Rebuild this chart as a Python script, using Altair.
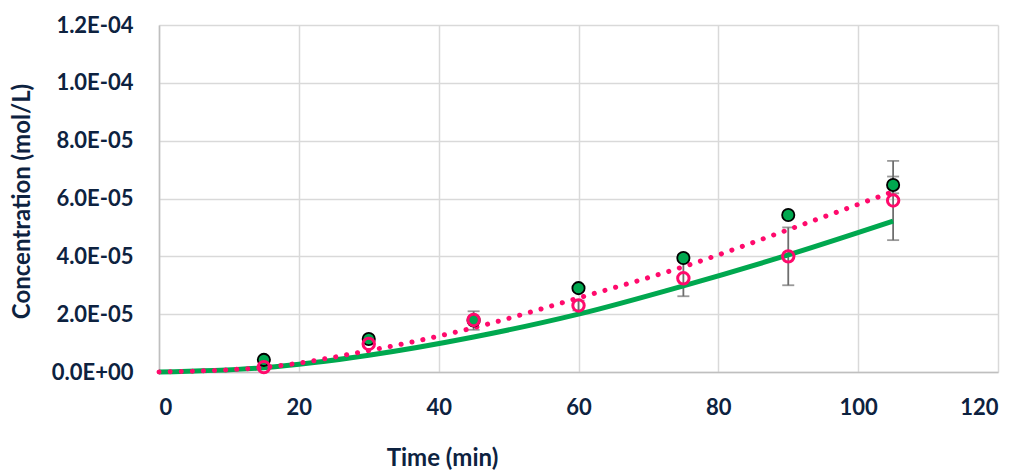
import altair as alt
import pandas as pd

# Measured points
times = [15, 30, 45, 60, 75, 90, 105]
green_pts = [4.2e-6, 1.14e-5, 1.78e-5, 2.9e-5, 3.94e-5, 5.43e-5, 6.47e-5]
green_err = [0, 0, 3.2e-6, 0, 0, 0, 2.9e-6]
pink_pts = [1.7e-6, 9.7e-6, 1.8e-5, 2.3e-5, 3.24e-5, 4.0e-5, 5.93e-5]
pink_err = [0, 0, 0, 1.7e-6, 6.2e-6, 1.0e-5, 1.37e-5]

# Model curves
curve_t = [0, 15, 30, 45, 60, 75, 90, 105]
green_curve = [0, 1.5e-6, 5.8e-6, 1.21e-5, 2.0e-5, 2.98e-5, 4.05e-5, 5.22e-5]
pink_curve = [0, 1.6e-6, 7.4e-6, 1.53e-5, 2.56e-5, 3.64e-5, 4.92e-5, 6.24e-5]

# Axis ticks
x_ticks = [0, 20, 40, 60, 80, 100, 120]
y_ticks = [0, 2e-5, 4e-5, 6e-5, 8e-5, 1e-4, 1.2e-4]
y_labels = ["0.0E+00", "2.0E-05", "4.0E-05", "6.0E-05", "8.0E-05", "1.0E-04", "1.2E-04"]

TEXT = "#0D2240"
GREEN = "#00A84F"
PINK = "#FF0A6C"
FONT = "Lato"

pts = pd.DataFrame({
    "t": times * 2,
    "c": green_pts + pink_pts,
    "err": green_err + pink_err,
    "s": ["g"] * 7 + ["p"] * 7,
})
pts["lo"] = pts["c"] - pts["err"]
pts["hi"] = pts["c"] + pts["err"]
eb = pts[pts["err"] > 0]

curves = pd.DataFrame({"t": curve_t, "g": green_curve, "p": pink_curve})

label_js = "[" + ",".join("'%s'" % l for l in y_labels) + "]"

xscale = alt.Scale(domain=[0, 120], nice=False, zero=True)
yscale = alt.Scale(domain=[0, 1.2e-4], nice=False)

xaxis = alt.Axis(values=x_ticks, title="Time (min)", grid=True, gridColor="#D9D9D9", gridWidth=1.5,
                 domain=True, domainColor="#BFBFBF", domainWidth=1.5, ticks=False, labelPadding=25,
                 labelFont=FONT, labelFontSize=22, labelFontWeight="bold", labelColor=TEXT,
                 titleFont=FONT, titleFontSize=24, titleFontWeight="bold", titleColor=TEXT,
                 titleX=283, titleY=86, titleBaseline="middle", titleAnchor="middle")
yaxis = alt.Axis(values=y_ticks, title="Concentration (mol/L)", grid=True, gridColor="#D9D9D9", gridWidth=1.5,
                 domain=True, domainColor="#BFBFBF", domainWidth=1.5, ticks=False, labelPadding=26,
                 labelExpr=label_js + "[round(datum.value/2e-5)]",
                 labelFont=FONT, labelFontSize=22, labelFontWeight="bold", labelColor=TEXT,
                 titleFont=FONT, titleFontSize=24, titleFontWeight="bold", titleColor=TEXT,
                 titleX=-137, titleY=176, titleBaseline="middle", titleAnchor="middle")

base_x = alt.X("t:Q", scale=xscale, axis=xaxis)

green_line = alt.Chart(curves).mark_line(color=GREEN, strokeWidth=5, interpolate="monotone").encode(
    x=base_x, y=alt.Y("g:Q", scale=yscale, axis=yaxis))
pink_line = alt.Chart(curves).mark_line(color=PINK, strokeWidth=5, strokeCap="round",
                                        strokeDash=[0.1, 11], interpolate="monotone").encode(
    x=alt.X("t:Q", scale=xscale), y=alt.Y("p:Q", scale=yscale))

err_rule = alt.Chart(eb).mark_rule(color="#6E6E6E", strokeWidth=1.8).encode(
    x=alt.X("t:Q", scale=xscale), y=alt.Y("lo:Q", scale=yscale), y2="hi:Q")
cap_lo = alt.Chart(eb).mark_tick(color="#6E6E6E", orient="horizontal", size=12, thickness=1.8).encode(
    x=alt.X("t:Q", scale=xscale), y=alt.Y("lo:Q", scale=yscale))
cap_hi = alt.Chart(eb).mark_tick(color="#6E6E6E", orient="horizontal", size=12, thickness=1.8).encode(
    x=alt.X("t:Q", scale=xscale), y=alt.Y("hi:Q", scale=yscale))

green_pt = alt.Chart(pts[pts["s"] == "g"]).mark_point(
    shape="circle", filled=True, fill=GREEN, stroke="#000000", strokeWidth=1.8, size=150, opacity=1).encode(
    x=alt.X("t:Q", scale=xscale), y=alt.Y("c:Q", scale=yscale))
pink_pt = alt.Chart(pts[pts["s"] == "p"]).mark_point(
    shape="circle", filled=False, stroke=PINK, strokeWidth=3, size=130, opacity=1).encode(
    x=alt.X("t:Q", scale=xscale), y=alt.Y("c:Q", scale=yscale))

chart = alt.layer(err_rule, cap_lo, cap_hi, green_line, pink_line, green_pt, pink_pt).properties(
    width=839, height=347,
    padding={"left": 159, "top": 25, "right": 23, "bottom": 98},
    autosize=alt.AutoSizeParams(type="none"),
    background="white",
).configure_view(stroke=None)

chart.save("out.html", embed_options={"renderer": "svg", "actions": False})
